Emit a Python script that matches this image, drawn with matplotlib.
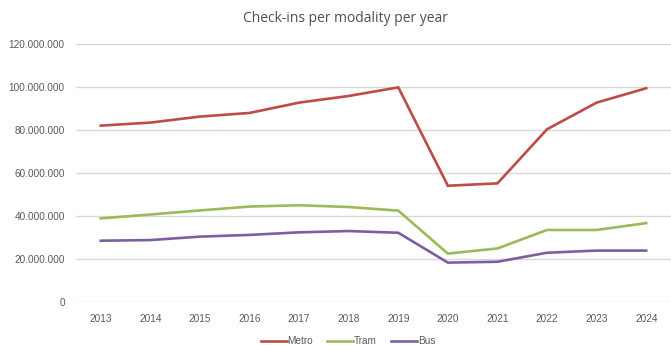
import matplotlib
matplotlib.use("Agg")
import matplotlib.pyplot as plt
from matplotlib.ticker import FuncFormatter, MultipleLocator

years = ["2013", "2014", "2015", "2016", "2017", "2018", "2019", "2020", "2021", "2022", "2023", "2024"]
metro = [82.0, 83.4, 86.2, 87.9, 92.7, 95.8, 99.8, 54.0, 55.1, 80.3, 92.7, 99.4]
tram = [38.8, 40.6, 42.5, 44.3, 44.9, 44.1, 42.4, 22.4, 24.8, 33.4, 33.4, 36.6]
bus = [28.4, 28.7, 30.3, 31.1, 32.3, 32.9, 32.1, 18.2, 18.6, 22.8, 23.8, 23.8]
series = [("Metro", metro, "#BE4B48"), ("Tram", tram, "#9BBB59"), ("Bus", bus, "#7D5FA0")]

plt.rcParams['font.family'] = ['Liberation Sans', 'DejaVu Sans']

fig = plt.figure(figsize=(6.71, 3.45), dpi=100)
ax = fig.add_axes([76/671, 43.3/345, (671-76)/671, 257.7/345])

x = list(range(len(years)))
for name, vals, col in series:
    ax.plot(x, [v * 1e6 for v in vals], color=col, lw=1.9, label=name, solid_joinstyle='miter')

ax.set_xlim(-0.5, len(years) - 0.5)
ax.set_ylim(0, 120e6)
ax.yaxis.set_major_locator(MultipleLocator(20e6))
ax.yaxis.set_major_formatter(FuncFormatter(lambda v, p: f"{int(v):,}".replace(",", ".")))
ax.set_xticks(x)
ax.set_xticklabels(years)
ax.grid(axis='y', color='#d9d9d9', lw=1)
ax.set_axisbelow(True)
for s in ax.spines.values():
    s.set_visible(False)
ax.tick_params(axis='both', length=0, labelsize=7.2, colors='#595959')
ax.tick_params(axis='y', pad=8)
ax.tick_params(axis='x', pad=9)

fig.text(345/671, 1 - 18/345, "Check-ins per modality per year", ha='center', va='center',
         fontsize=10, color='#505050', family=['Open Sans', 'DejaVu Sans'])

leg = fig.legend(loc='center', bbox_to_anchor=(348/671, 1 - 341/345), ncol=3, frameon=False,
                 fontsize=7.2, handlelength=2.6, handletextpad=0.1, columnspacing=1.4)
for t in leg.get_texts():
    t.set_color('#595959')

fig.savefig("out.png", dpi=100)
